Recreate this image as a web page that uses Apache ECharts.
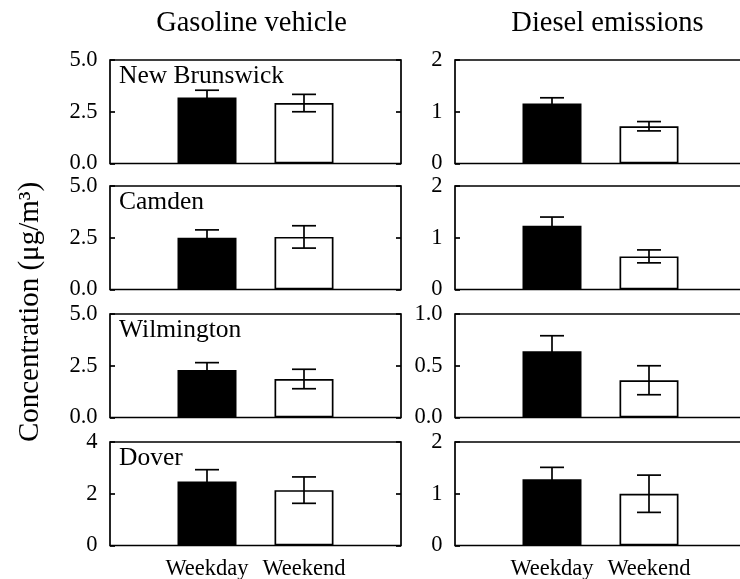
<!DOCTYPE html>
<html><head><meta charset="utf-8">
<script src="https://cdn.jsdelivr.net/npm/echarts@6/dist/echarts.min.js"></script>
<style>html,body{margin:0;padding:0;background:#fff}#c{width:740px;height:579px}</style>
</head><body><div id="c"></div>
<script>
const sites = ['New Brunswick', 'Camden', 'Wilmington', 'Dover'];
const categories = ['Weekday', 'Weekend'];
const columnTitles = ['Gasoline vehicle', 'Diesel emissions'];
const yAxisTitle = 'Concentration (μg/m³)';

const gasWeekday = [3.19, 2.50, 2.29, 2.47];
const gasWeekdayErr = [0.35, 0.38, 0.36, 0.46];
const gasWeekend = [2.92, 2.54, 1.86, 2.14];
const gasWeekendErr = [0.42, 0.54, 0.47, 0.51];

const dieselWeekday = [1.16, 1.23, 0.64, 1.28];
const dieselWeekdayErr = [0.11, 0.17, 0.15, 0.23];
const dieselWeekend = [0.72, 0.64, 0.36, 1.00];
const dieselWeekendErr = [0.09, 0.125, 0.14, 0.36];

const gasTicks = [['0.0', '2.5', '5.0'], ['0.0', '2.5', '5.0'], ['0.0', '2.5', '5.0'], ['0', '2', '4']];
const dieselTicks = [['0', '1', '2'], ['0', '1', '2'], ['0.0', '0.5', '1.0'], ['0', '1', '2']];

const FONT = '"Liberation Serif", "Times New Roman", serif';
const colLeft = [110, 455];
const colWidth = 291;
const rowTop = [60, 186, 314, 442];
const rowHeight = 103.5;

const chart = echarts.init(document.getElementById('c'), null, {renderer: 'canvas'});

const grids = [], xAxes = [], yAxes = [], series = [], graphics = [];

function renderErr(params, api) {
  const x = api.value(0), y = api.value(1), e = api.value(2);
  const top = api.coord([x, y + e]);
  const bot = api.coord([x, y - e]);
  const hw = 12;
  const style = {stroke: '#000', lineWidth: 1.7};
  return {type: 'group', children: [
    {type: 'line', shape: {x1: top[0], y1: top[1], x2: bot[0], y2: bot[1]}, style: style},
    {type: 'line', shape: {x1: top[0] - hw, y1: top[1], x2: top[0] + hw, y2: top[1]}, style: style},
    {type: 'line', shape: {x1: bot[0] - hw, y1: bot[1], x2: bot[0] + hw, y2: bot[1]}, style: style}
  ]};
}

const xCats = [''].concat(categories).concat(['']);

for (let r = 0; r < 4; r++) {
  for (let c = 0; c < 2; c++) {
    const gi = grids.length;
    const ticks = c === 0 ? gasTicks[r] : dieselTicks[r];
    const wd = c === 0 ? gasWeekday[r] : dieselWeekday[r];
    const wdE = c === 0 ? gasWeekdayErr[r] : dieselWeekdayErr[r];
    const we = c === 0 ? gasWeekend[r] : dieselWeekend[r];
    const weE = c === 0 ? gasWeekendErr[r] : dieselWeekendErr[r];
    const maxV = parseFloat(ticks[ticks.length - 1]);
    const interval = parseFloat(ticks[1]);

    grids.push({left: colLeft[c], top: rowTop[r], width: colWidth, height: rowHeight,
      show: true, borderColor: '#000', borderWidth: 1.7, backgroundColor: 'transparent',
      containLabel: false, outerBoundsMode: 'none'});

    xAxes.push({type: 'category', gridIndex: gi, data: xCats, boundaryGap: false,
      axisLine: {show: false}, axisTick: {show: false}, splitLine: {show: false},
      axisLabel: {show: r === 3, interval: 0, margin: 12.5, fontSize: 22.5, fontFamily: FONT, color: '#000'}});

    const fmt = function (v) { return ticks[Math.round(v / interval)] || ''; };
    yAxes.push({type: 'value', gridIndex: gi, position: 'left', min: 0, max: maxV, interval: interval,
      axisLine: {show: false}, splitLine: {show: false},
      axisTick: {show: true, inside: true, length: 5, lineStyle: {color: '#000', width: 1.7}},
      axisLabel: {show: true, formatter: fmt, margin: 12.5, fontSize: 22.5, fontFamily: FONT, color: '#000'}});
    const yLeftIdx = yAxes.length - 1;
    yAxes.push({type: 'value', gridIndex: gi, position: 'right', min: 0, max: maxV, interval: interval,
      axisLine: {show: false}, splitLine: {show: false},
      axisTick: {show: true, inside: true, length: 5, lineStyle: {color: '#000', width: 1.7}},
      axisLabel: {show: false}});

    series.push({type: 'bar', xAxisIndex: gi, yAxisIndex: yLeftIdx, barWidth: 59, z: 2,
      silent: true, animation: false,
      data: ['-',
        {value: wd, itemStyle: {color: '#000', borderColor: '#000', borderWidth: 1.7}},
        {value: we, itemStyle: {color: '#fff', borderColor: '#000', borderWidth: 1.7}},
        '-']});
    series.push({type: 'custom', xAxisIndex: gi, yAxisIndex: yLeftIdx, z: 3, silent: true, animation: false,
      renderItem: renderErr, encode: {x: 0, y: 1},
      data: [[1, wd, wdE], [2, we, weE]]});

    if (c === 0) {
      graphics.push({type: 'text', x: colLeft[0] + 9, y: rowTop[r] + 16.5,
        style: {text: sites[r], font: '25.5px ' + FONT, fill: '#000', align: 'left', verticalAlign: 'middle',
          textAlign: 'left', textVerticalAlign: 'middle'}});
    }
  }
}

graphics.push({type: 'text', x: 251.5, y: 24,
  style: {text: columnTitles[0], font: '28.5px ' + FONT, fill: '#000', align: 'center', verticalAlign: 'middle',
    textAlign: 'center', textVerticalAlign: 'middle'}});
graphics.push({type: 'text', x: 607.5, y: 24,
  style: {text: columnTitles[1], font: '28.5px ' + FONT, fill: '#000', align: 'center', verticalAlign: 'middle',
    textAlign: 'center', textVerticalAlign: 'middle'}});
graphics.push({type: 'text', x: 30.5, y: 312, rotation: Math.PI / 2,
  style: {text: yAxisTitle, font: '29px ' + FONT, fill: '#000', align: 'center', verticalAlign: 'middle',
    textAlign: 'center', textVerticalAlign: 'middle'}});

chart.setOption({
  animation: false,
  backgroundColor: '#fff',
  grid: grids,
  xAxis: xAxes,
  yAxis: yAxes,
  series: series,
  graphic: graphics
});
</script>
</body></html>
